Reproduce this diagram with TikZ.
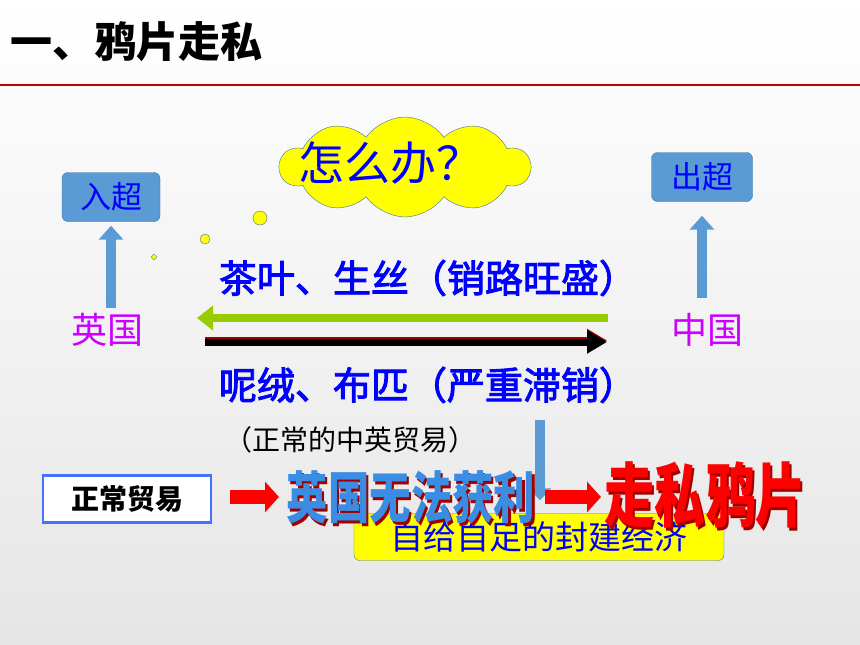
\documentclass[tikz,border=0pt]{standalone}
\usepackage{fontspec}
\setmainfont{Noto Sans CJK SC}
\newfontfamily\heiti[FakeBold=2.5]{Noto Sans CJK SC}
\usepackage{xcolor}
\usepackage{pdfrender}
\usetikzlibrary{shapes.symbols,arrows.meta}
\definecolor{titlered}{HTML}{c00000}
\definecolor{boxblue}{HTML}{5b9bd5}
\definecolor{boxline}{HTML}{41719c}
\definecolor{txtblue}{HTML}{0000ff}
\definecolor{pink}{HTML}{cc00ff}
\definecolor{leaf}{HTML}{99cc00}
\definecolor{frameblue}{HTML}{4472ff}
\definecolor{lightblue}{HTML}{3a8de2}
\definecolor{paleblue}{HTML}{a8d8ff}
\definecolor{shadowred}{HTML}{a00000}
\definecolor{sunny}{HTML}{ffff00}
% shadow, edge, face (rgb numbers), text
\newcommand{\outlined}[4]{%
	\rlap{\kern3pt\raisebox{-3pt}{\color{#1}#4}}%
	{\color{#2}\special{pdf:literal direct #3 rg}%
	\textpdfrender{TextRenderingMode=2,LineWidth=2.4pt}{#4}}}

\begin{document}
\begin{tikzpicture}[x=1pt,y=-1pt,
	chaobox/.style={draw=boxline,fill=boxblue,rounded corners=6pt,minimum width=98pt,minimum height=49pt,inner sep=0pt,text=txtblue,font=\fontsize{31}{31}\selectfont},
	country/.style={text=pink,font=\fontsize{36}{36}\selectfont,inner sep=0pt},
	goods/.style={text=txtblue,font=\fontsize{38}{38}\heiti,inner sep=0pt},
	bubble/.style={circle,draw=boxline,fill=sunny,inner sep=0pt},
	uparrow/.style={draw=boxblue,line width=10pt,-{Triangle[width=24pt,length=14pt]}},
	redarrow/.style={draw=red,line width=14pt,-{Triangle[width=30pt,length=14pt]}}]
	\useasboundingbox (0,0) rectangle (860,645);
	\shade[top color=white,bottom color=black!10] (0,0) rectangle (860,645);
	% title
	\node (title) [anchor=west,inner sep=0pt,font=\fontsize{42}{42}\selectfont\bfseries] at (10,42) {一、鸦片走私};
	\draw [titlered,line width=1.5pt] (0,85) -- (860,85);
	% thinking cloud
	\node (cloud) [cloud,cloud puffs=10,cloud puff arc=110,aspect=2.6,draw=boxline,fill=sunny,minimum width=250pt,minimum height=100pt,inner sep=0pt] at (405,167) {};
	\node (ask) [text=txtblue,font=\fontsize{46}{46}\selectfont,inner sep=0pt] at (390,163) {怎么办？};
	\node (b1) [bubble,minimum size=14pt] at (260,218) {};
	\node (b2) [bubble,minimum size=10pt] at (205,239) {};
	\node (b3) [bubble,minimum size=5pt] at (154,257) {};
	% countries
	\node (ruchao) [chaobox] at (111,197) {入超};
	\node (chuchao) [chaobox,minimum width=101pt] at (702,177) {出超};
	\node (uk) [country] at (107,330) {英国};
	\node (cn) [country] at (707,330) {中国};
	\coordinate (ukup) at (111,308);
	\coordinate (cnup) at (702,298);
	\draw [uparrow,shorten >=4pt] (ukup) -- (ruchao.south);
	\draw [uparrow,shorten >=14pt] (cnup) -- (chuchao.south);
	% trade
	\node (tea) [goods] at (428,278) {茶叶、生丝（销路旺盛）};
	\node (wool) [goods] at (428,385) {呢绒、布匹（严重滞销）};
	\coordinate (gs) at (608,318);
	\coordinate (ge) at (197,318);
	\coordinate (ks) at (205,342);
	\coordinate (ke) at (607,342);
	\draw [leaf,line width=8pt,-{Triangle[width=24pt,length=16pt]}] (gs) -- (ge);
	\draw [shadowred,line width=7pt,-{Triangle[width=22pt,length=20pt]}] ([yshift=1.5pt]ks) -- ([yshift=1.5pt]ke);
	\draw [black,line width=7pt,-{Triangle[width=22pt,length=20pt]}] (ks) -- (ke);
	\node (normal) [inner sep=0pt,font=\fontsize{28}{28}\selectfont] at (350,440) {（正常的中英贸易）};
	% result
	\node (feudal) [draw=boxline,fill=sunny,rounded corners=6pt,minimum width=370pt,minimum height=47pt,inner sep=0pt,text=txtblue,font=\fontsize{33}{33}\selectfont] at (539,537) {自给自足的封建经济};
	\coordinate (ds) at (540,420);
	\draw [boxblue,line width=10pt,-{Triangle[width=22pt,length=12pt]},shorten >=13pt] (ds) -- (feudal.north -| ds);
	\node (zcmy) [draw=frameblue,line width=2.5pt,fill=white,minimum width=168pt,minimum height=47pt,inner sep=0pt,font=\fontsize{28}{28}\selectfont\bfseries] at (127,499) {正常贸易};
	\coordinate (r1s) at (230,497);
	\coordinate (r1e) at (279,497);
	\coordinate (r2s) at (545,497);
	\coordinate (r2e) at (601,497);
	\draw [redarrow] (r1s) -- (r1e);
	\draw [redarrow] (r2s) -- (r2e);
	\node (wufa) [inner sep=0pt,xscale=0.74,font=\fontsize{56}{56}\selectfont\bfseries] at (411,499) {\outlined{shadowred}{paleblue}{0.227 0.553 0.886}{英国无法获利}};
	\node (zousi) [inner sep=0pt,xscale=0.72,font=\fontsize{70}{70}\selectfont\bfseries] at (705,497) {\outlined{shadowred}{sunny}{1 0 0}{走私鸦片}};
\end{tikzpicture}
\end{document}
